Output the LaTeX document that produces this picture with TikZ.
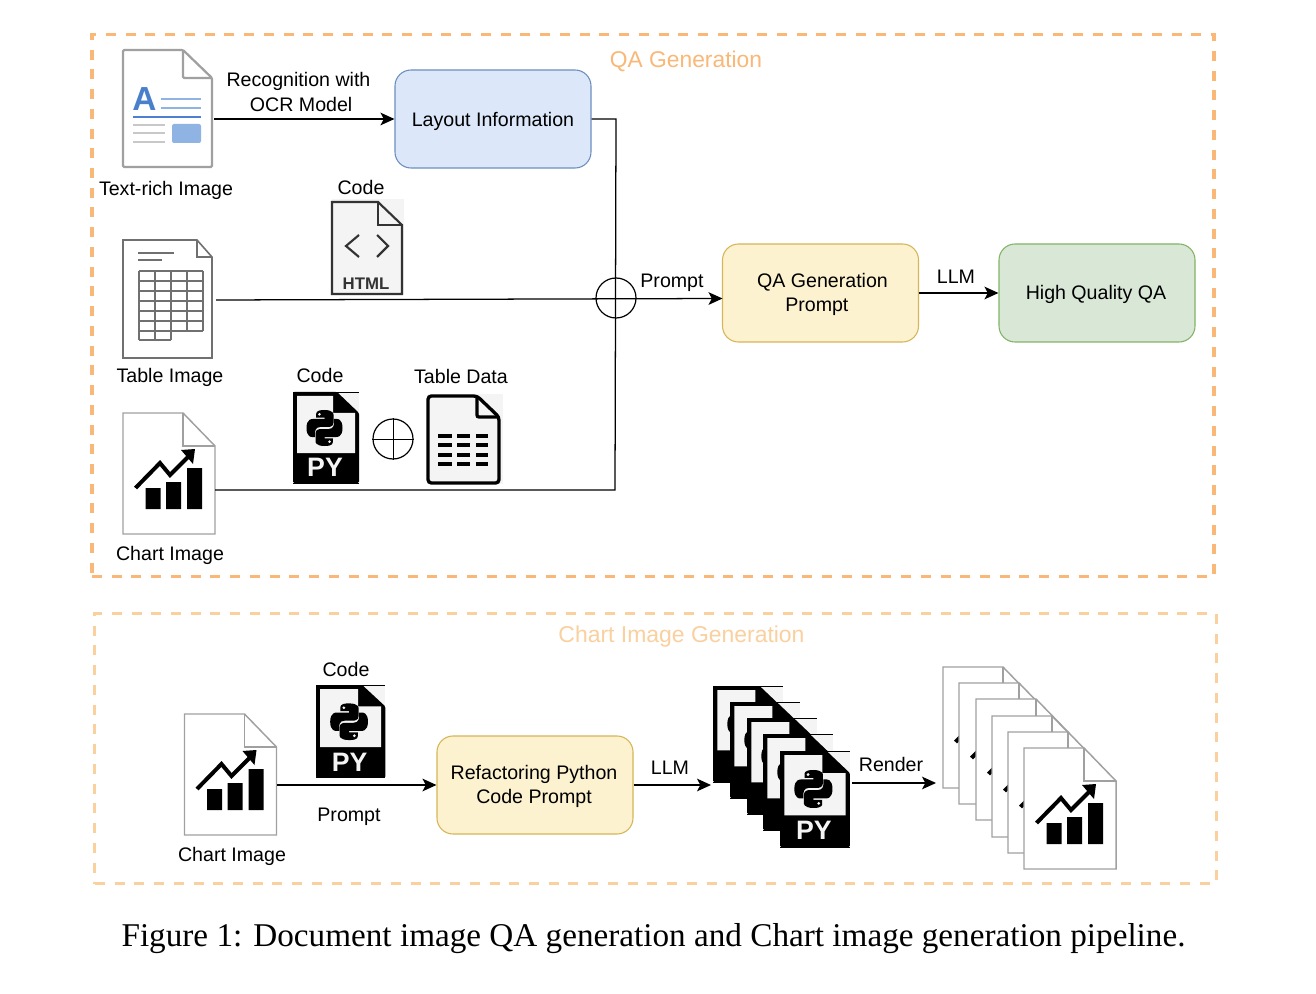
\documentclass[tikz,border=0pt]{standalone}
\usepackage{fontspec}
\setmainfont{Liberation Sans}
\newfontfamily\capfont{Liberation Serif}
\usetikzlibrary{arrows.meta}
\definecolor{qaorange}{HTML}{F9B877}
\definecolor{chartorange}{HTML}{FAD09F}
\definecolor{bluefill}{HTML}{DCE8FA}
\definecolor{bluedraw}{HTML}{6C8EBF}
\definecolor{yellowfill}{HTML}{FDF2CF}
\definecolor{yellowdraw}{HTML}{D6B656}
\definecolor{greenfill}{HTML}{D8E7D6}
\definecolor{greendraw}{HTML}{82B366}
\definecolor{docgray}{HTML}{A0A0A0}
\definecolor{iconlight}{HTML}{F4F4F4}
\definecolor{ablue}{HTML}{4A7FCB}
\definecolor{lightblue}{HTML}{8FB4E3}
\definecolor{midblue}{HTML}{4F7FD0}
\definecolor{softgray}{HTML}{C8C8C8}
\definecolor{tablegray}{HTML}{707070}
\definecolor{htmlgray}{HTML}{333333}
\newcommand\padhi{\rule{0pt}{14.5pt}}
\newcommand\padlo{\rule{0pt}{13pt}}
\newcommand\pyshape{%
    \fill[iconlight] (0,0) rectangle (66,91);
    \draw[black, line width=0.5pt] (0,0) -- (66,0) (0,91) -- (66,91);
    \fill[black, rounded corners=1pt] (0,0) -- (44,0) -- (66,21) -- (66,91) -- (0,91) -- cycle;
    \fill[iconlight] (4,4) -- (40,4) -- (40,21) -- (62,21) -- (62,61) -- (4,61) -- cycle;
    \begin{scope}[shift={(13.5,18)},scale=0.36]
      \foreach \r in {0,180}{
        \begin{scope}[rotate around={\r:(50,50)}]
          \fill[black] (49,0) .. controls (25,0) and (27,10) .. (27,10) -- (27,21) -- (50,21) -- (50,25) -- (17,25)
            .. controls (17,25) and (0,23) .. (0,50) .. controls (0,76) and (15,75) .. (15,75) -- (24,75) -- (24,62)
            .. controls (24,62) and (23,47) .. (39,47) -- (62,47) .. controls (62,47) and (75,47) .. (75,35) -- (75,13)
            .. controls (75,13) and (77,0) .. (49,0) -- cycle;
          \fill[iconlight] (36,12) circle[radius=4];
        \end{scope}
      }
    \end{scope}%
}
\tikzset{
  lbl/.style={font=\fontsize{14.7pt}{18pt}\selectfont, text=black, inner sep=0pt, align=center},
  boxed/.style={rounded corners=12pt, minimum width=147pt, minimum height=73.5pt, line width=0.8pt, lbl},
  bluebox/.style={boxed, draw=bluedraw, fill=bluefill},
  yellowbox/.style={boxed, draw=yellowdraw, fill=yellowfill},
  greenbox/.style={boxed, draw=greendraw, fill=greenfill},
  frame/.style={line width=2.4pt, dash pattern=on 7.5pt off 7.3pt},
  conn/.style={line width=0.95pt, black},
  arrowconn/.style={conn, -{Stealth[length=10.5pt,width=9.5pt,inset=2.5pt]}},
  ring/.style={draw=black, line width=0.9pt, circle, minimum size=30pt, inner sep=0pt},
  pics/chartdoc/.style={code={
    \draw[docgray, line width=1.1pt, fill=white] (0,0) -- (60,0) -- (92,33) -- (92,121) -- (0,121) -- cycle;
    \draw[docgray, line width=1.1pt] (60,0) -- (60,33) -- (92,33);
    \fill[black] (22.7,75) rectangle (37.7,96) (43,69) rectangle (58,96) (64,55) rectangle (79,96);
    \draw[black, line width=3pt] (12.5,75) -- (37,50) -- (47,62) -- (66,43);
    \fill[black] (58,37) -- (72,36) -- (70,51) -- cycle;
  }},
  pics/pybase/.style={code={\pyshape}},
  pics/pydoc/.style={code={
    \pyshape
    \node[font=\bfseries\fontsize{20pt}{20pt}\selectfont, text=iconlight, inner sep=0pt] (text) at (32,75.5) {PY};
  }}
}
\begin{document}
\begin{tikzpicture}[x=0.75pt,y=-0.75pt]
\useasboundingbox (0,0) rectangle (1316,994);
\fill[white] (0,0) rectangle (1316,994);

% frames
\node[draw=qaorange, frame, minimum width=841.5pt, minimum height=407pt, inner sep=0pt] (qaframe) at (653,305.5) {};
\node[draw=chartorange, frame, minimum width=841pt, minimum height=203pt, inner sep=0pt] (chartframe) at (655.5,748.5) {};
\node[lbl, text=qaorange, font=\fontsize{17.1pt}{20pt}\selectfont] (qatitle) at (686,61) {QA Generation};
\node[lbl, text=chartorange, font=\fontsize{17.2pt}{20pt}\selectfont] (charttitle) at (681.5,637) {Chart Image Generation};

% text-rich document icon
\begin{scope}[shift={(123,50)}]
  \draw[docgray, line width=1.7pt, rounded corners=1pt, fill=white] (0,0) -- (60,0) -- (89,28) -- (89,117) -- (0,117) -- cycle;
  \draw[docgray, line width=1.7pt, rounded corners=1pt] (60,0) -- (60,28) -- (89,28);
  \node[font=\bfseries\fontsize{25pt}{25pt}\selectfont, text=ablue, inner sep=0pt] (bigA) at (21.5,49) {A};
  \draw[lightblue, line width=2.1pt] (38,49) -- (78,49) (38,58) -- (78,58);
  \draw[midblue, line width=2.2pt] (10,67) -- (78,67);
  \draw[softgray, line width=2pt] (10,75) -- (42,75) (10,83) -- (42,83) (10,92) -- (42,92);
  \fill[lightblue, rounded corners=1.5pt] (49,74) rectangle (78,93);
\end{scope}

% table document icon
\begin{scope}[shift={(123,240)}]
  \draw[tablegray, line width=1.2pt, fill=white] (0,0) -- (74,0) -- (89,17) -- (89,118) -- (0,118) -- cycle;
  \draw[tablegray, line width=1.2pt] (74,0) -- (74,17) -- (89,17);
  \draw[tablegray, line width=1.2pt] (15,13) -- (51,13) (15,20) -- (39,20);
  \draw[tablegray, line width=1.4pt]
    (16,31) -- (80,31) (16,41) -- (80,41) (16,51) -- (80,51) (16,61) -- (80,61) (16,71) -- (80,71) (16,81) -- (80,81) (16,91) -- (80,91) (16,100) -- (48,100)
    (16,31) -- (16,100) (32,31) -- (32,100) (48,31) -- (48,100) (64,31) -- (64,91) (80,31) -- (80,91);
\end{scope}

% html code icon
\fill[iconlight] (332,199) rectangle (404,294);
\begin{scope}[shift={(332,202)}]
  \draw[htmlgray, line width=1.6pt, fill=iconlight] (0,0) -- (46,0) -- (70,23) -- (70,92) -- (0,92) -- cycle;
  \draw[htmlgray, line width=1.6pt] (46,0) -- (46,23) -- (70,23);
  \draw[htmlgray, line width=1.6pt] (27,33) -- (14,44) -- (27,55) (45,33) -- (56,44) -- (45,55);
  \node[font=\bfseries\fontsize{12.6pt}{12pt}\selectfont, text=htmlgray, inner sep=0pt] (htmltext) at (34,82) {HTML};
\end{scope}

% first-row chart image, python code, ring and table data
\pic (charta) at (123,413) {chartdoc};
\pic (pya) at (293,392) {pydoc};
\node[ring] (plusa) at (393,439) {};
\draw[black, line width=0.7pt] (plusa.north) -- (plusa.south) (plusa.west) -- (plusa.east);
\fill[iconlight] (428,394) rectangle (503,484);
\begin{scope}[shift={(428,396)}]
  \draw[black, line width=2.5pt, rounded corners=2.5pt, fill=iconlight] (0,0) -- (49,0) -- (71,21) -- (71,87) -- (0,87) -- cycle;
  \draw[black, line width=2.5pt, rounded corners=1.5pt] (49,0) -- (49,21) -- (71,21);
  \draw[black, line width=2.6pt]
    (10,40) -- (24,40) (29,40) -- (42,40) (48,40) -- (60,40)
    (10,49) -- (24,49) (29,49) -- (42,49) (48,49) -- (60,49)
    (10,59) -- (24,59) (29,59) -- (42,59) (48,59) -- (60,59)
    (10,68) -- (24,68) (29,68) -- (42,68) (48,68) -- (60,68);
\end{scope}

% boxes of the QA row
\node[bluebox] (layout) at (493,119) {\padhi Layout Information};
\node[yellowbox] (qaprompt) at (820.5,293) {\rule{0pt}{12.5pt}\hspace*{3pt}QA Generation\\\hspace*{-5.5pt}Prompt};
\node[greenbox] (hq) at (1097,293) {\padlo\hspace*{-1.5pt}High Quality QA};

% labels of the QA part
\node[lbl] (ocrlabel) at (298.5,92) {Recognition with\\\hspace*{4pt}OCR Model};
\node[lbl] (textrich) at (166,190) {Text-rich Image};
\node[lbl] (codehtml) at (361,187.5) {Code};
\node[lbl] (tableimg) at (170,377) {Table Image};
\node[lbl] (codepya) at (320,375.5) {Code};
\node[lbl] (tabledata) at (461,376) {Table Data};
\node[lbl] (chartimga) at (170,555.5) {Chart Image};
\node[lbl] (promptb) at (672,283) {Prompt};
\node[lbl] (llma) at (956,277) {LLM};

% connectors of the QA part
\coordinate (docout) at (214,119);
\coordinate (tableout) at (216,300);
\coordinate (chartout) at (215,490);
\coordinate (junction) at (616,298);
\coordinate (bus) at (616,119);
\coordinate (busbottom) at (615,490);
\coordinate (promptin) at (722.5,298.5);
\node[ring] (plusb) at (junction) {};
\draw[arrowconn] (docout) -- (layout.west);
\draw[conn] (layout.east |- bus) -- (bus) -- (busbottom) -- (chartout);
\draw[arrowconn] (tableout) -- (promptin);
\draw[arrowconn] (qaprompt.east) -- (hq.west);

% chart image generation part
\pic (chartb) at (184.5,714) {chartdoc};
\pic[xscale=1.05,yscale=1.02] (pyb) at (316,685) {pydoc};
\node[yellowbox] (refactor) at (535,785) {\padlo\hspace*{-1.5pt}Refactoring Python\\\hspace*{-1.5pt}Code Prompt};
\node[lbl] (codepyb) at (346,669.5) {Code};
\node[lbl] (promptc) at (349,817) {Prompt};
\node[lbl] (chartimgb) at (232,856) {Chart Image};
\node[lbl] (llmb) at (670,768) {LLM};
\node[lbl] (renderlbl) at (891,764) {Render};

\pic[xscale=1.06,yscale=1.055] (stacka) at (713,686) {pybase};
\pic[xscale=1.06,yscale=1.055] (stackb) at (730,702) {pybase};
\pic[xscale=1.06,yscale=1.055] (stackc) at (747,718) {pybase};
\pic[xscale=1.06,yscale=1.055] (stackd) at (763,734) {pybase};
\pic[xscale=1.06,yscale=1.055] (stacke) at (780,751) {pydoc};

\pic (rendera) at (943,667) {chartdoc};
\pic (renderb) at (959,683) {chartdoc};
\pic (renderc) at (976,699) {chartdoc};
\pic (renderd) at (992,716) {chartdoc};
\pic (rendere) at (1008,732) {chartdoc};
\pic (renderf) at (1024,748) {chartdoc};

\coordinate (chartbout) at (277,785);
\coordinate (stackin) at (711,785);
\coordinate (stackout) at (852,783);
\coordinate (renderin) at (936,783);
\draw[arrowconn] (chartbout) -- (refactor.west);
\draw[arrowconn] (refactor.east) -- (stackin);
\draw[arrowconn] (stackout) -- (renderin);

% caption
\node[font=\capfont\fontsize{24.9pt}{30pt}\selectfont, inner sep=0pt] (caption) at (653.5,939) {Figure 1: Document image QA generation and Chart image generation pipeline.};
\end{tikzpicture}
\end{document}
